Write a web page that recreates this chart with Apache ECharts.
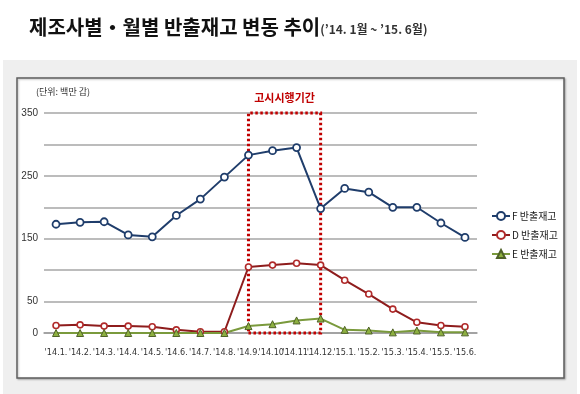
<!DOCTYPE html>
<html><head><meta charset="utf-8">
<script src="https://cdn.jsdelivr.net/npm/echarts@6/dist/echarts.min.js"></script>
<style>html,body{margin:0;padding:0;background:#fff}#c{width:580px;height:394px}</style>
</head><body><div id="c"></div>
<script>
const categories = ["'14.1.","'14.2.","'14.3.","'14.4.","'14.5.","'14.6.","'14.7.","'14.8.","'14.9.","'14.10.","'14.11.","'14.12.","'15.1.","'15.2.","'15.3.","'15.4.","'15.5.","'15.6."];
const seriesF = [173,176,177,156,153,187,213,248,283,290,295,198,230,224,200,200,175,152];
const seriesD = [12,13,11,11,10,5,2,2,105,108,111,108,84,62,38,17,12,10];
const seriesE = [0,0,0,0,0,0,0,0,11,14,20,23,5,4,1,4,1,1];
const yLabels = [0,50,150,250,350];
const periodStart = "'14.9.", periodEnd = "'14.12.";
const seriesNames = ['F 반출재고','D 반출재고','E 반출재고'];

const chart = echarts.init(document.getElementById('c'), null, {renderer:'canvas'});
const font = "'Noto Sans CJK KR','Noto Sans',sans-serif";
chart.setOption({
  animation:false,
  backgroundColor:'#fff',
  graphic:[
    {type:'rect', z:-10, shape:{x:3,y:60,width:574,height:334}, style:{fill:'#efefef'}},
    {type:'rect', z:-9, shape:{x:17,y:78,width:547,height:300}, style:{fill:'#fff',stroke:'#5f5f5f',lineWidth:1.5,shadowColor:'rgba(0,0,0,0.25)',shadowBlur:2,shadowOffsetX:1,shadowOffsetY:1}},
    {type:'text', left:36, top:87, style:{text:'(단위: 백만 갑)', font:"9px "+font, fill:'#333'}}
  ],
  title:{
    left:24, top:12,
    text:'{a|제조사별・월별 반출재고 변동 추이}{b|(\u201914. 1월 ~ \u201915. 6월)}',
    textStyle:{rich:{
      a:{fontSize:20,fontWeight:'bold',fontFamily:font,color:'#111'},
      b:{fontSize:12,fontFamily:"'Noto Sans CJK KR',sans-serif",color:'#333',padding:[4,0,0,0]}
    }}
  },
  legend:{
    orient:'vertical', left:486, top:206, itemGap:9, itemWidth:18, itemHeight:10,
    data:seriesNames,
    textStyle:{fontSize:10,fontFamily:font,color:'#222',padding:[0,0,0,-3]}
  },
  grid:{left:44, top:113, width:433, height:220},
  xAxis:{
    type:'category', data:categories, boundaryGap:true,
    axisLine:{show:true,lineStyle:{color:'#9a9a9a',width:1.5}},
    axisTick:{show:false},
    axisLabel:{interval:0,fontSize:9,color:'#333',margin:15,fontFamily:"'Liberation Sans Narrow','DejaVu Sans Condensed',sans-serif"}
  },
  yAxis:{
    type:'value', min:0, max:350, interval:50,
    axisLine:{show:false}, axisTick:{show:false},
    splitLine:{lineStyle:{color:'#a6a6a6',width:1.5}},
    axisLabel:{fontSize:10,color:'#333',margin:6,formatter:v=>yLabels.includes(v)?String(v):''}
  },
  series:[
    {name:seriesNames[0], type:'line', data:seriesF, symbol:'circle', symbolSize:7,
     lineStyle:{color:'#1f3d6b',width:2}, itemStyle:{color:'#fff',borderColor:'#1f3d6b',borderWidth:1.8}, color:'#1f3d6b',
     markArea:{silent:true,
       itemStyle:{color:'rgba(0,0,0,0)',borderColor:'#c00000',borderWidth:3,borderType:[2.5,2.5]},
       label:{show:true,position:'top',distance:8,color:'#c00000',fontWeight:'bold',fontSize:11,fontFamily:font},
       data:[[{name:'고시시행기간',xAxis:periodStart,yAxis:0},{xAxis:periodEnd,yAxis:350}]]}
    },
    {name:seriesNames[1], type:'line', data:seriesD, symbol:'circle', symbolSize:6,
     lineStyle:{color:'#8e1c1c',width:2}, itemStyle:{color:'#fff',borderColor:'#b02a2a',borderWidth:1.6}, color:'#8e1c1c'},
    {name:seriesNames[2], type:'line', data:seriesE, symbol:'triangle', symbolSize:7,
     lineStyle:{color:'#7a9a3c',width:2}, itemStyle:{color:'#8db040',borderColor:'#4f6228',borderWidth:1}, color:'#7a9a3c'}
  ]
});
</script></body></html>
